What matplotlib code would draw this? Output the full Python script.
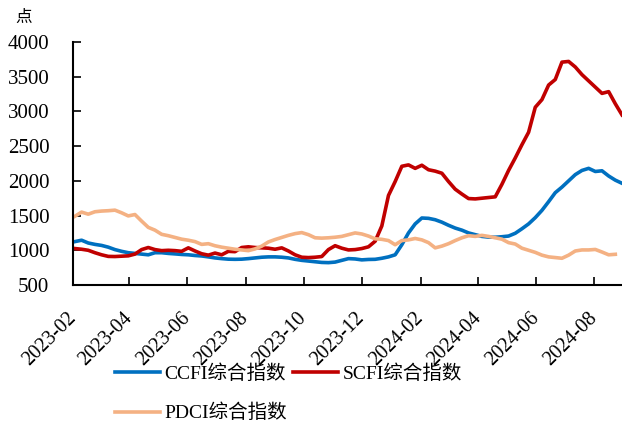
import numpy as np
import pandas as pd
import matplotlib
matplotlib.use('Agg')
from matplotlib import pyplot as plt
import matplotlib.dates as mdates

plt.rcParams['font.family'] = ['Liberation Serif', 'Noto Sans CJK SC']

# weekly dates (Fridays)
dates = pd.date_range('2023-02-03', periods=83, freq='7D')

ccfi = [1125, 1145, 1105, 1085, 1070, 1045, 1010, 985, 965, 955,
        945, 935, 965, 965, 955, 948, 940, 935, 925, 918,
        905, 890, 880, 872, 870, 872, 880, 890, 900, 905,
        905, 900, 890, 870, 855, 845, 835, 825, 822, 830,
        855, 880, 875, 862, 868, 870, 885, 905, 935, 1080,
        1250, 1380, 1465, 1460, 1440, 1405, 1360, 1320, 1290, 1250,
        1225, 1200, 1190, 1188, 1195, 1205, 1245, 1310, 1380, 1470,
        1575, 1700, 1830, 1910, 2000, 2090, 2150, 2180, 2135, 2145,
        2070, 2010, 1965]

scfi = [1025, 1015, 1000, 965, 935, 912, 910, 915, 920, 945,
        1010, 1040, 1010, 995, 1000, 995, 985, 1035, 990, 950,
        930, 960, 935, 985, 980, 1040, 1050, 1040, 1035, 1030,
        1015, 1035, 990, 935, 900, 895, 900, 910, 1010, 1066,
        1030, 1005, 1010, 1025, 1050, 1130, 1350, 1790, 1990, 2210,
        2230, 2180, 2225, 2160, 2140, 2110, 1990, 1880, 1810, 1745,
        1740, 1750, 1760, 1770, 1950, 2150, 2330, 2520, 2700, 3060,
        3170, 3380, 3460, 3710, 3720, 3640, 3530, 3440, 3350, 3260,
        3285, 3110, 2950]

pdci = [1490, 1550, 1520, 1555, 1565, 1570, 1578, 1540, 1495, 1515,
        1420, 1330, 1290, 1230, 1210, 1185, 1160, 1145, 1125, 1085,
        1095, 1065, 1045, 1030, 1015, 1005, 995, 1020, 1060, 1120,
        1155, 1185, 1215, 1240, 1255, 1225, 1180, 1175, 1180, 1188,
        1200, 1225, 1250, 1235, 1205, 1165, 1158, 1140, 1080, 1140,
        1150, 1170, 1150, 1110, 1035, 1060, 1095, 1140, 1180, 1210,
        1200, 1215, 1200, 1180, 1160, 1110, 1090, 1030, 1000, 970,
        930, 905, 895, 885, 930, 990, 1005, 1005, 1012, 975,
        935, 942, np.nan]

fig = plt.figure(figsize=(6.22, 4.21), dpi=100)
ax = fig.add_axes([73 / 622, 1 - 285 / 421, 549 / 622, 243 / 421])

l1, = ax.plot(dates, ccfi, color='#0070C0', lw=2.6, label='CCFI综合指数')
l2, = ax.plot(dates, scfi, color='#C00000', lw=2.6, label='SCFI综合指数')
l3, = ax.plot(dates, pdci, color='#F4B183', lw=2.6, label='PDCI综合指数')

ax.set_ylim(500, 4000)
ax.set_yticks(range(500, 4001, 500))
ax.set_xlim(pd.Timestamp('2023-02-01'), pd.Timestamp('2024-08-30'))
ax.xaxis.set_major_locator(mdates.MonthLocator(bymonth=[2, 4, 6, 8, 10, 12]))
ax.xaxis.set_major_formatter(mdates.DateFormatter('%Y-%m'))

for s in ['top', 'right']:
    ax.spines[s].set_visible(False)
for s in ['left', 'bottom']:
    ax.spines[s].set_linewidth(1.5)

ax.tick_params(axis='y', direction='in', length=6, width=1.2, pad=17, labelsize=15)
ax.tick_params(axis='x', direction='in', length=6, width=1.2, pad=22, labelsize=14.5)
for lab in ax.get_xticklabels():
    lab.set_rotation(45)
    lab.set_ha('right')
    lab.set_va('center')
    lab.set_rotation_mode('anchor')

fig.text(15 / 622, 1 - 18 / 421, '点', fontsize=12, va='center', ha='left')

# column-major fill: CCFI / PDCI in col 1, SCFI in col 2
fig.legend([l1, l3, l2], [l1.get_label(), l3.get_label(), l2.get_label()],
           loc='upper left', bbox_to_anchor=(115 / 622, 1 - 364 / 421),
           ncol=2, frameon=False, fontsize=14, handlelength=2.3,
           handletextpad=0.25, columnspacing=0.3, labelspacing=1.1,
           borderpad=0, borderaxespad=0)

fig.savefig('out.png', dpi=100)
